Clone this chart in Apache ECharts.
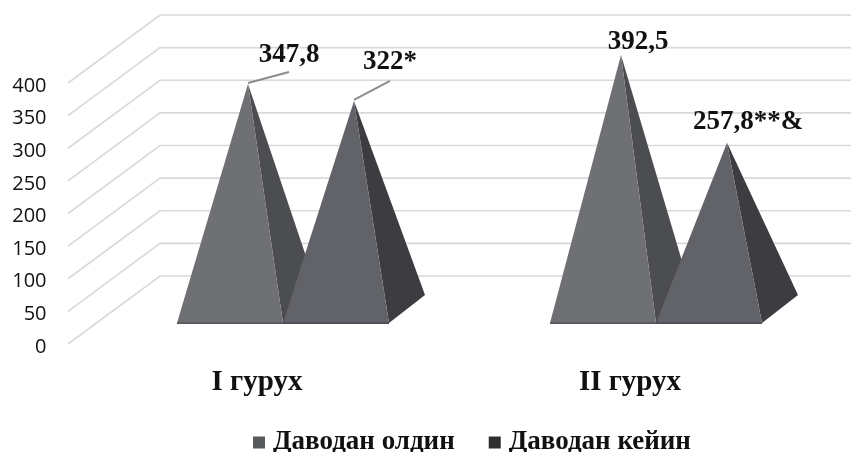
<!DOCTYPE html>
<html>
<head>
<meta charset="utf-8">
<style>html,body{margin:0;padding:0;background:#fff}#chart{width:851px;height:452px}</style>
<script src="https://cdn.jsdelivr.net/npm/echarts@6/dist/echarts.min.js"></script>
</head>
<body>
<div id="chart"></div>
<script>
// Pre/post treatment values per group, drawn as 3D pyramids.
const categories = ['I гурух', 'II гурух'];
const seriesNames = ['Даводан олдин', 'Даводан кейин'];
const beforeValues = [347.8, 392.5];
const afterValues = [322, 257.8];
const beforeLabels = ['347,8', '392,5'];
const afterLabels = ['322*', '257,8**&'];
const valueTicks = [0, 50, 100, 150, 200, 250, 300, 350, 400];

// Oblique projection of the floor and back wall, in pixels.
const WALL_DX = 92, WALL_DY = -68, WALL_LEFT = 68, WALL_RIGHT = 851, FRONT_LIFT = 3;
const BASE_LIFT = 24, BASE_HALF = 53, DEPTH_DX = 36, DEPTH_DY = -28, APEX_LIFT = 36;
const SERIF = '"Liberation Serif", serif';

// One pyramid: front face plus right side face, optional leader line and value text.
function pyramid(side, values, labels, colors, labelOffsets) {
  return function (params, api) {
    const i = api.value(0);
    const c = api.coord([i, values[i]]);
    const zero = api.coord([i, 0]);
    const cx = c[0] + side * BASE_HALF;
    const baseY = zero[1] - BASE_LIFT;
    const l = [cx - BASE_HALF, baseY];
    const r = [cx + BASE_HALF, baseY];
    const rb = [r[0] + DEPTH_DX, baseY + DEPTH_DY];
    const apex = [cx + DEPTH_DX / 2, c[1] - APEX_LIFT];
    const off = labelOffsets[i];
    const children = [
      { type: 'polygon', shape: { points: [r, rb, apex] }, style: { fill: colors[1] } },
      { type: 'polygon', shape: { points: [l, r, apex] }, style: { fill: colors[0] } },
      { type: 'line', shape: { x1: l[0], y1: baseY, x2: r[0], y2: baseY }, style: { stroke: colors[2], lineWidth: 2 } }
    ];
    if (off.lead) {
      children.push({
        type: 'line',
        shape: { x1: apex[0], y1: apex[1] - 1, x2: apex[0] + off.lead[0], y2: apex[1] + off.lead[1] },
        style: { stroke: '#8c8c8c', lineWidth: 2 }
      });
    }
    children.push({
      type: 'text',
      style: {
        x: apex[0] + off.x, y: apex[1] + off.y, text: labels[i], fill: '#111',
        font: 'bold 27px ' + SERIF, align: 'center', verticalAlign: 'middle'
      }
    });
    return { type: 'group', children };
  };
}

// Back wall rule with its slanted run to the front edge, one per axis tick.
function wallLine(params, api) {
  const y = api.coord([0, api.value(0)])[1] - FRONT_LIFT;
  const backX = WALL_LEFT + WALL_DX, backY = y + WALL_DY;
  return {
    type: 'polyline',
    shape: { points: [[WALL_LEFT, y], [backX, backY], [WALL_RIGHT, backY]] },
    style: { fill: 'none', stroke: '#d9d9d9', lineWidth: 1.6 }
  };
}

const chart = echarts.init(document.getElementById('chart'), null, { renderer: 'canvas' });
chart.setOption({
  backgroundColor: '#fff',
  animation: false,
  grid: { left: 96.5, width: 746, top: 86, height: 261 },
  legend: {
    data: seriesNames, left: 253, top: 429, padding: 0, itemWidth: 12, itemHeight: 12, itemGap: 34, icon: 'rect',
    textStyle: { fontFamily: SERIF, fontWeight: 'bold', fontSize: 27, color: '#111', padding: [0, 0, 0, 3] }
  },
  xAxis: {
    type: 'category', data: categories,
    axisLine: { show: false }, axisTick: { show: false }, splitLine: { show: false },
    axisLabel: { fontFamily: SERIF, fontWeight: 'bold', fontSize: 29, color: '#111', margin: 21, padding: [0, 52, 0, 0] }
  },
  yAxis: {
    type: 'value', min: 0, max: 400, interval: 50,
    axisLine: { show: false }, axisTick: { show: false }, splitLine: { show: false },
    axisLabel: { fontFamily: '"Open Sans", sans-serif', fontSize: 20, color: '#111', margin: 50 }
  },
  series: [
    {
      type: 'custom', name: 'wall', silent: true, z: 1,
      data: valueTicks.map(v => [v]), encode: { y: 0 },
      renderItem: wallLine
    },
    {
      type: 'custom', name: seriesNames[0], z: 2, itemStyle: { color: '#58595c' },
      data: categories.map((_, i) => [i]), encode: { x: 0 },
      renderItem: pyramid(-1, beforeValues, beforeLabels, ['#6f7074', '#4c4d51', '#5b5c60'],
        [{ x: 41, y: -29, lead: [41, -12] }, { x: 17, y: -13 }])
    },
    {
      type: 'custom', name: seriesNames[1], z: 3, itemStyle: { color: '#2f2f32' },
      data: categories.map((_, i) => [i]), encode: { x: 0 },
      renderItem: pyramid(1, afterValues, afterLabels, ['#626368', '#3d3d41', '#505156'],
        [{ x: 36, y: -39, lead: [36, -20] }, { x: 21, y: -21 }])
    }
  ]
});
</script>
</body>
</html>
